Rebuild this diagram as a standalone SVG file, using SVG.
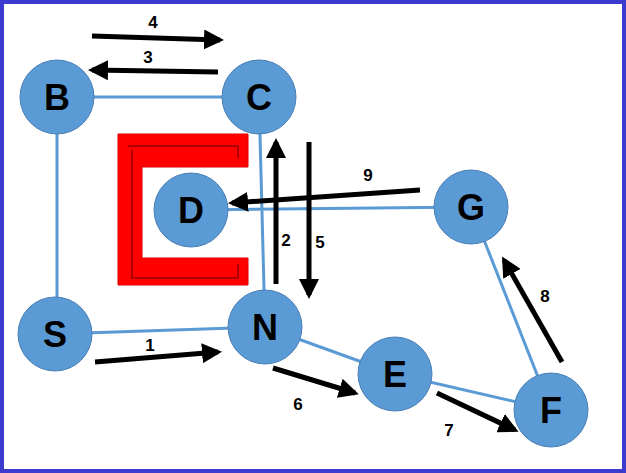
<svg xmlns="http://www.w3.org/2000/svg" width="626" height="473" viewBox="0 0 626 473">
<style>
.n{fill:#5b9bd5;stroke:#4a7fb5;stroke-width:1}
.t{font-family:"Liberation Sans",Arial,sans-serif;font-weight:bold;font-size:36px;text-anchor:middle;fill:#000}
.l{font-family:"Liberation Sans",Arial,sans-serif;font-weight:bold;font-size:17px;text-anchor:middle;fill:#000}
.e{stroke:#5b9bd5;stroke-width:3;fill:none}
.a{stroke:#000;stroke-width:5;fill:none;marker-end:url(#h)}
</style>
<defs><marker id="h" viewBox="0 0 10 10" refX="8" refY="5" markerWidth="4" markerHeight="4" orient="auto" markerUnits="strokeWidth"><path d="M0,0L10,5L0,10z" fill="#000"/></marker></defs>
<rect x="2" y="2" width="622" height="469" fill="#fff" stroke="#3b3bcf" stroke-width="4"/>
<g id="bracket"><path d="M118,134H248V167H142V258H248V285H118Z" fill="#ff0000" stroke="#e00000"/><path d="M128,146H238V158M132,150V278H238V264" fill="none" stroke="#b00000" stroke-width="2"/></g>
<g id="connectors">
<path class="e" d="M57,97H259M57,97V334M55,334L265,327M259,97L265,327M191,210L471,207M265,327L395,374M395,374L551,410M471,207L551,410"/>
<path class="a" d="M92,36L220,40"/><path class="a" d="M218,72L92,70"/><path class="a" d="M276,284V142"/><path class="a" d="M309,142V295"/><path class="a" d="M420,190L232,203"/><path class="a" d="M562,362L504,260"/><path class="a" d="M95,362L218,352"/><path class="a" d="M273,368L355,393"/><path class="a" d="M437,393L515,430"/>
<text class="l" x="153" y="28">4</text><text class="l" x="148" y="63">3</text><text class="l" x="286" y="246">2</text><text class="l" x="320" y="248">5</text><text class="l" x="368" y="181">9</text><text class="l" x="545" y="302">8</text><text class="l" x="150" y="351">1</text><text class="l" x="298" y="410">6</text><text class="l" x="449" y="436">7</text>
</g>
<g id="B"><circle class="n" cx="57" cy="97" r="37"/><text class="t" x="57" y="110">B</text></g>
<g id="C"><circle class="n" cx="259" cy="97" r="37"/><text class="t" x="259" y="110">C</text></g>
<g id="D"><circle class="n" cx="191" cy="210" r="37"/><text class="t" x="191" y="223">D</text></g>
<g id="G"><circle class="n" cx="471" cy="207" r="37"/><text class="t" x="471" y="220">G</text></g>
<g id="S"><circle class="n" cx="55" cy="334" r="37"/><text class="t" x="55" y="347">S</text></g>
<g id="N"><circle class="n" cx="265" cy="327" r="37"/><text class="t" x="265" y="340">N</text></g>
<g id="E"><circle class="n" cx="395" cy="374" r="37"/><text class="t" x="395" y="387">E</text></g>
<g id="F"><circle class="n" cx="551" cy="410" r="37"/><text class="t" x="551" y="423">F</text></g>
</svg>
